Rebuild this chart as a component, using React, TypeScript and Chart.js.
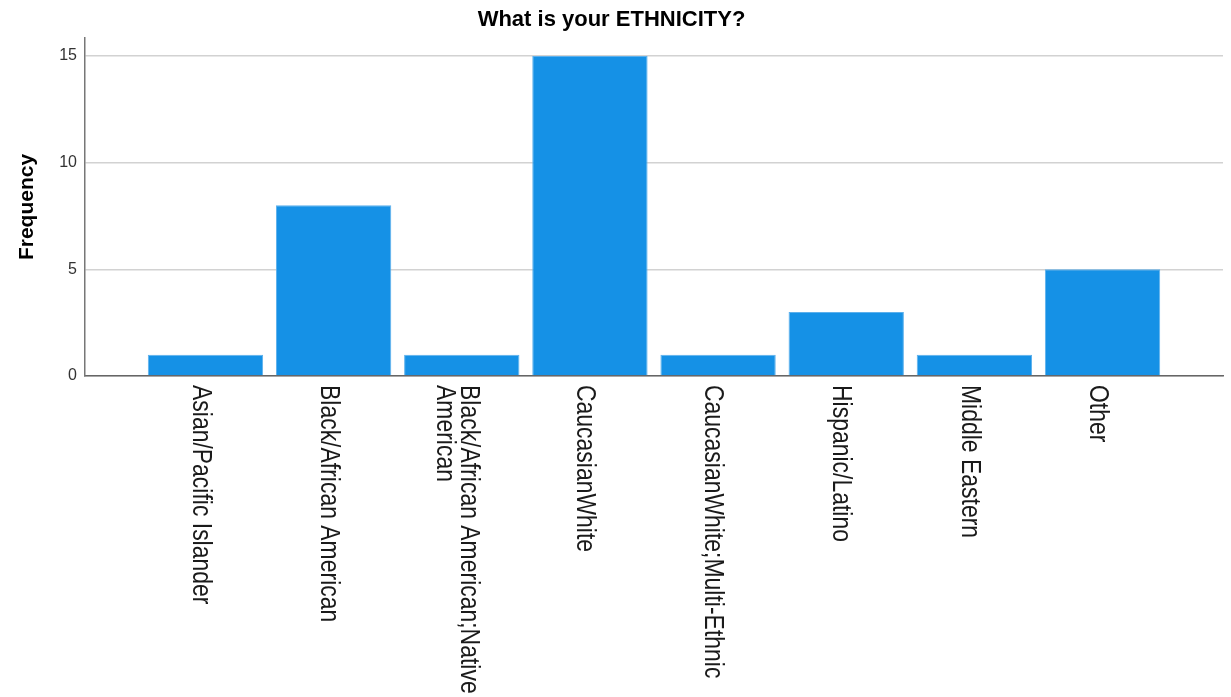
import React, { useEffect, useRef } from "react";
import { Chart, registerables } from "chart.js";

Chart.register(...registerables);

const TITLE = "What is your ETHNICITY?";
const Y_TITLE = "Frequency";
const categories: (string | string[])[] = [
  "Asian/Pacific Islander",
  "Black/African American",
  ["Black/African American;Native", "American"],
  "CaucasianWhite",
  "CaucasianWhite;Multi-Ethnic",
  "Hispanic/Latino",
  "Middle Eastern",
  "Other",
];
const frequencies = [1, 8, 1, 15, 1, 3, 1, 5];
const yTicks = [0, 5, 10, 15];

const categoryLabelPlugin = {
  id: "categoryLabels",
  afterDraw(chart: any) {
    const xs = chart.scales.x;
    const ctx = chart.ctx;
    const top = chart.chartArea.bottom + 9;
    ctx.save();
    ctx.fillStyle = "#1a1a1a";
    ctx.font = '27px "Liberation Sans", Arial, sans-serif';
    ctx.textBaseline = "alphabetic";
    ctx.textAlign = "left";
    categories.forEach((cat, i) => {
      const lines = Array.isArray(cat) ? cat : [cat];
      const cx = xs.getPixelForValue(i);
      const n = lines.length;
      lines.forEach((line, j) => {
        const yOff = 12.8 - ((n - 1) / 2 - j) * 23.7;
        ctx.save();
        ctx.translate(cx, top);
        ctx.rotate(Math.PI / 2);
        ctx.scale(0.85, 1);
        ctx.fillText(line, 0, yOff);
        ctx.restore();
      });
    });
    ctx.restore();
  },
};

export default function App() {
  const ref = useRef<HTMLCanvasElement>(null);
  useEffect(() => {
    if (!ref.current) return;
    const chart = new Chart(ref.current, {
      type: "bar",
      data: {
        datasets: [
          {
            label: Y_TITLE,
            data: frequencies.map((v, i) => ({ x: i, y: v })),
            backgroundColor: "#1591e6",
            borderColor: "#5cb0ec",
            borderWidth: 1,
            barPercentage: 0.9,
            categoryPercentage: 1,
          },
        ],
      },
      options: {
        animation: false,
        responsive: true,
        maintainAspectRatio: false,
        layout: { padding: { left: 0, right: 8, top: 0, bottom: 0 } },
        plugins: {
          legend: { display: false },
          tooltip: { enabled: false },
          title: {
            display: true,
            text: TITLE,
            color: "#000",
            font: { family: '"Liberation Sans", Arial, sans-serif', size: 22, weight: "bold", lineHeight: 1.2 },
            padding: { top: 7, bottom: 4.6 },
          },
        },
        scales: {
          x: {
            type: "linear",
            offset: false,
            min: -0.94,
            max: 7.94,
            afterBuildTicks: (s: any) => {
              s.ticks = categories.map((_, i) => ({ value: i }));
            },
            ticks: { display: false },
            grid: { display: false, drawTicks: false, offset: false },
            border: { display: true, color: "#666", width: 1.5 },
            afterFit: (s: any) => {
              s.height = 321;
            },
          },
          y: {
            min: 0,
            max: 15.84,
            afterBuildTicks: (s: any) => {
              s.ticks = yTicks.map((v) => ({ value: v }));
            },
            ticks: {
              stepSize: 5,
              includeBounds: false,
              color: "#333",
              padding: 8,
              font: { family: '"Liberation Sans", Arial, sans-serif', size: 16 },
            },
            grid: { color: "#d2d2d2", lineWidth: 1.5, drawTicks: false },
            border: { display: true, color: "#777", width: 1.5 },
            title: {
              display: true,
              text: Y_TITLE,
              color: "#000",
              font: { family: '"Liberation Sans", Arial, sans-serif', size: 21, weight: "bold", lineHeight: 1.2 },
              padding: { top: 15, bottom: 0 },
            },
            afterFit: (s: any) => {
              s.width = 85;
            },
          },
        },
      },
      plugins: [categoryLabelPlugin],
    } as any);
    return () => chart.destroy();
  }, []);
  return (
    <div style={{ position: "fixed", left: 0, top: 0, width: 1231, height: 697, background: "#fff" }}>
      <canvas ref={ref} />
    </div>
  );
}
